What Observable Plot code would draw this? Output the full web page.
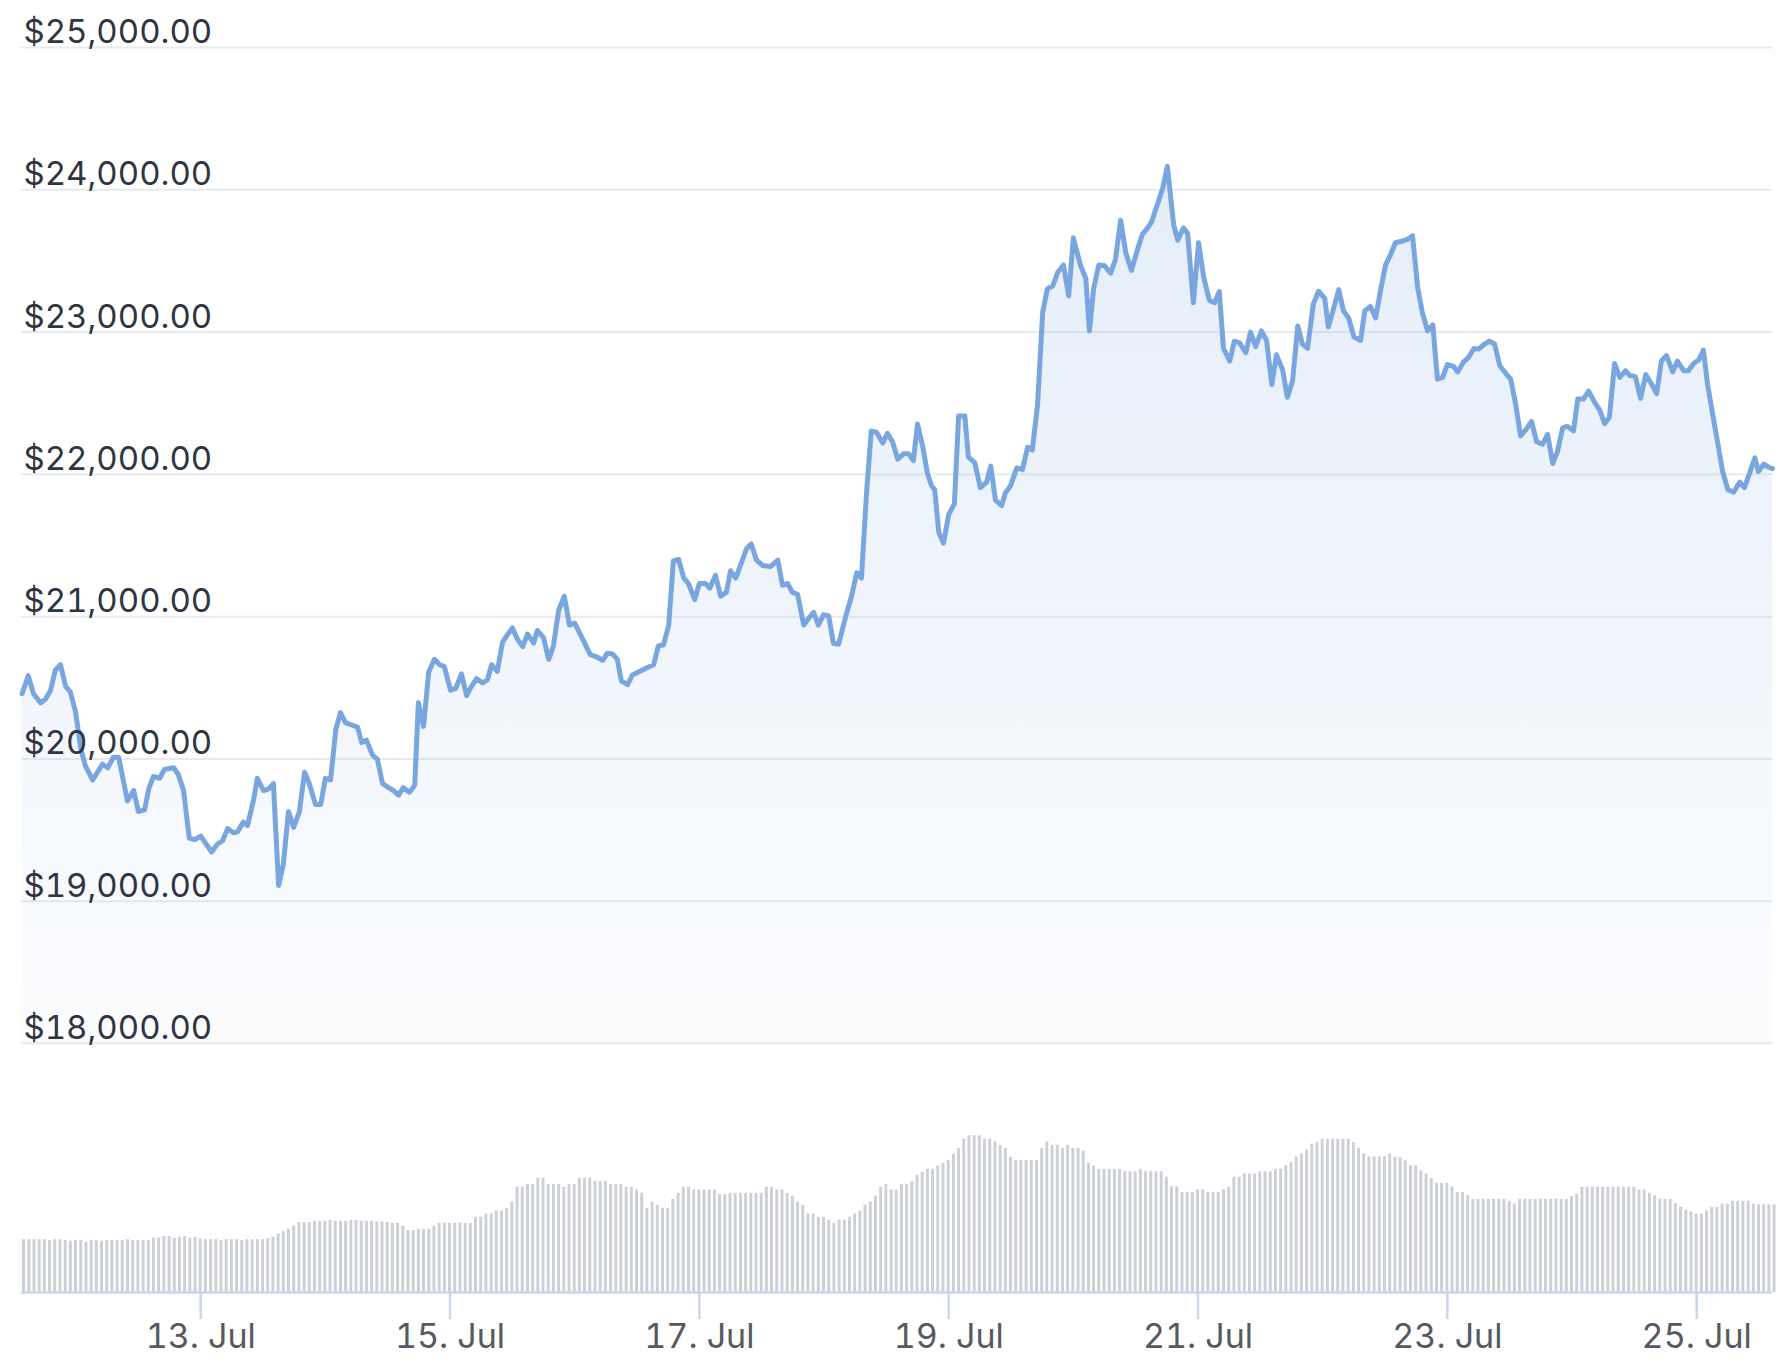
<!DOCTYPE html>
<html><head><meta charset="utf-8">
<script src="https://cdn.jsdelivr.net/npm/d3@7"></script>
<script src="https://cdn.jsdelivr.net/npm/@observablehq/plot@0.6"></script>
<style>
html,body{margin:0;padding:0;background:#fff;}
#wrap{position:relative;width:1792px;height:1364px;overflow:hidden;background:#fff;}
#price{position:absolute;left:0;top:0;}
#vol{position:absolute;left:0;top:1100px;}
</style></head>
<body><div id="wrap"><div id="price"></div><div id="vol"></div></div>
<script>
// Start of the 14-day window (UTC), hours counted from here
const startTime = Date.UTC(2022, 6, 11, 13, 30);

// Price samples: hour offset from start and BTC price in USD
const priceHours = [
0.1,1.3,2.3,3.7,4.6,5.6,6.5,7.5,8.5,9.4,10.4,11.4,12.3,13.7,15.6,16.6,17.7,18.7,20.4,21.6,
22.5,23.7,24.5,25.4,26.6,27.5,29.3,30.2,31.2,32.3,33.3,34.5,36.6,37.7,38.7,39.7,40.8,41.6,42.7,43.5,
44.7,45.4,46.6,47.6,48.5,49.5,50.4,51.4,52.4,53.5,54.5,55.4,56.6,57.6,58.5,59.5,60.5,61.4,62.4,63.3,
64.7,65.5,66.4,67.6,68.5,69.5,70.5,71.6,72.6,73.5,74.7,75.7,76.4,77.4,78.4,79.5,80.5,81.4,82.6,83.6,
84.7,85.7,
86.4,87.6,88.8,89.7,90.5,91.6,92.6,93.4,94.5,95.5,96.5,97.4,98.6,99.3,100.5,101.5,102.4,103.4,104.5,105.5,
106.5,107.2,108.4,109.5,110.7,111.9,112.8,113.8,114.7,115.5,116.7,117.6,118.8,120.1,121.7,122.6,123.6,124.6,125.5,126.5,
127.5,128.4,129.6,130.5,131.7,132.5,133.6,134.6,135.7,136.5,137.5,138.4,139.6,140.5,141.5,142.7,144.2,145.6,146.5,147.5,
148.4,149.4,150.6,151.5,152.5,153.4,154.4,155.4,156.3,157.3,158.6,159.8,160.8,161.7,162.7,163.6,164.6,165.8,166.7,167.7,
168.7,169.8,170.8,
171.7,172.5,173.5,174.4,175.2,175.8,176.6,177.5,178.5,179.6,180.4,181.6,182.3,183.5,184.6,185.8,186.6,187.5,188.7,189.4,
190.4,191.6,192.7,193.7,194.6,195.6,196.6,197.5,198.5,199.5,200.6,201.6,202.5,203.9,204.9,205.6,206.4,207.4,208.5,209.7,
210.6,211.6,212.6,213.7,214.7,215.8,216.8,217.6,218.3,219.7,220.6,221.8,222.6,223.7,224.5,225.6,226.6,227.6,228.7,229.7,
230.6,231.4,232.6,233.5,234.5,235.7,236.6,237.6,238.7,239.7,240.7,241.6,242.8,243.7,244.7,245.7,246.6,247.6,248.7,249.7,
250.9,251.6,252.6,253.6,254.5,255.5,256.5,257.8,258.6,259.7,260.7,261.6,262.6,263.6,264.5,266.1,266.8,267.8,268.8,269.7,
270.7,271.7,272.6,273.6,274.5,275.7,276.5,277.6,278.6,279.6,280.5,281.5,282.6,283.6,284.6,285.7,286.7,287.6,288.6,289.6,
290.7,291.7,292.8,293.8,294.8,295.7,296.7,297.6,298.8,299.6,300.7,301.7,302.8,303.8,304.8,305.7,306.7,307.7,308.8,309.6,
310.7,311.7,312.7,313.8,314.8,315.7,316.7,317.9,318.8,320.0,320.9,321.9,322.9,323.8,324.6,325.8,326.6,327.5,328.5,329.6,
330.8,331.7,332.7,333.7,334.4,335.4,336.4,337.1
];
const prices = [
20458,20585,20458,20394,20420,20483,20623,20662,20509,20471,20331,20076,19951,19852,19963,19938,20012,20012,19704,19778,
19630,19642,19790,19877,19864,19926,19938,19889,19778,19444,19432,19457,19346,19401,19425,19511,19481,19488,19556,19531,
19716,19864,19778,19790,19827,19111,19259,19630,19519,19630,19906,19827,19679,19679,19864,19852,20204,20326,20254,20242,
20224,20115,20132,20025,20000,19827,19802,19778,19746,19798,19765,19815,20394,20229,20611,20700,20662,20649,20483,20496,
20598,20445,
20496,20565,20534,20555,20662,20616,20819,20865,20921,20840,20789,20878,20814,20903,20852,20700,20794,21043,21144,20941,
20954,20903,20814,20733,20718,20692,20743,20738,20700,20547,20522,20590,20611,20636,20662,20794,20802,20941,21392,21403,
21271,21233,21119,21233,21233,21200,21291,21144,21170,21322,21271,21359,21478,21511,21397,21359,21352,21397,21220,21233,
21170,21157,20941,20987,21030,20941,21013,21005,20813,20806,20992,21144,21309,21271,21878,22304,22296,22220,22289,22228,
22106,22144,22144,
22096,22353,22196,22008,21919,21894,21592,21516,21718,21793,22410,22410,22121,22083,21907,21945,22058,21819,21781,21869,
21919,22045,22033,22191,22171,22486,23140,23305,23323,23420,23471,23254,23662,23466,23377,23008,23305,23471,23466,23415,
23509,23786,23557,23433,23563,23687,23732,23777,23856,24010,24166,23757,23645,23732,23695,23206,23628,23384,23222,23206,
23285,22885,22796,22936,22924,22855,23000,22898,23008,22941,22631,22840,22733,22542,22656,23043,22916,22886,23196,23287,
23236,23037,23165,23298,23149,23099,22967,22941,23149,23180,23099,23285,23471,23546,23628,23642,23652,23677,23310,23136,
23008,23050,22669,22682,22771,22758,22720,22789,22822,22885,22880,22911,22936,22916,22763,22712,22669,22504,22270,22313,
22372,22229,22211,22280,22076,22160,22326,22338,22305,22529,22529,22585,22509,22453,22356,22402,22779,22682,22728,22695,
22687,22534,22702,22636,22567,22796,22835,22720,22796,22728,22728,22779,22804,22873,22631,22377,22211,22020,21894,21874,
21945,21907,22008,22116,22020,22071,22050,22040
];

// Hourly trading volume (billions USD), one bar per hour from start
const volumes = [
13.2,13.2,13.2,13.2,13.2,13.0,13.2,13.2,
13.0,12.8,13.0,13.0,12.6,13.0,13.0,12.8,13.0,13.0,13.0,13.0,13.2,13.0,13.0,13.0,13.0,
13.6,13.6,14.0,14.0,13.6,13.8,14.0,13.6,13.8,13.4,13.2,
13.2,13.2,13.0,13.2,13.2,13.2,13.0,13.2,13.2,13.2,13.2,13.4,13.8,
14.6,15.2,15.8,16.6,
17.5,17.5,17.5,17.8,
17.8,17.8,18.0,17.8,17.8,17.8,18.0,18.0,17.8,17.8,17.8,17.6,17.6,17.5,
17.3,17.3,16.6,15.5,15.5,15.8,15.8,15.8,16.6,
17.3,17.3,17.3,17.3,17.3,17.3,17.3,
18.8,18.8,19.6,19.6,20.3,20.3,21.0,22.6,26.3,26.3,27.0,27.0,28.6,28.6,27.0,27.0,27.0,26.3,27.0,27.0,
28.6,28.6,28.6,27.8,27.8,27.8,27.0,27.0,27.0,26.3,26.3,25.6,24.8,21.0,22.6,21.8,21.0,21.0,23.3,24.8,
26.3,26.3,25.6,25.6,25.6,25.6,25.6,24.5,24.5,24.8,24.8,24.8,24.8,24.8,24.8,24.8,26.3,26.3,25.6,25.6,
24.8,24.1,22.6,21.8,19.6,19.6,18.8,18.8,18.1,17.3,18.1,18.1,18.8,19.6,20.3,21.8,22.6,24.1,26.3,27.0,
25.6,25.6,27.0,27.0,27.8,29.3,30.0,30.8,30.8,31.6,32.3,33.0,34.6,36.0,38.3,39.2,39.2,39.2,38.3,38.3,
37.6,36.8,36.0,33.8,33.0,33.0,33.0,33.0,33.0,36.0,37.6,36.8,36.8,36.0,36.8,36.0,36.0,35.3,32.3,31.6,
30.8,30.8,30.8,30.8,30.8,30.2,30.2,30.2,30.8,30.2,30.2,30.2,30.2,28.8,26.4,26.4,25.0,25.0,25.0,25.7,
25.7,25.0,25.0,25.0,25.7,26.3,28.8,28.8,29.6,29.6,29.6,30.2,30.2,30.2,30.8,30.8,31.7,32.5,33.9,34.7,
35.6,37.1,37.5,38.3,38.3,38.3,38.3,38.3,38.3,37.5,36.0,34.7,33.9,33.9,33.9,33.9,34.6,33.8,33.8,32.9,
31.7,31.7,30.4,29.6,28.5,27.3,27.3,27.3,26.4,25.0,25.0,24.2,23.3,23.3,23.3,23.3,23.3,23.3,23.3,22.8,
22.1,23.3,23.3,23.3,23.3,23.3,23.3,23.3,23.3,23.3,23.3,24.0,24.6,26.3,26.3,26.3,26.3,26.3,26.3,26.3,
26.3,26.3,26.3,26.3,25.6,25.6,24.8,24.2,23.3,23.3,23.3,22.3,21.3,20.6,20.1,19.6,19.6,20.4,21.3,21.3,
22.1,22.1,22.8,22.8,22.8,22.8,22.1,21.9,21.9,21.9,21.9
];

// Axis ticks
const yTicks = [18000, 19000, 20000, 21000, 22000, 23000, 24000, 25000];
const xTickDays = [13, 15, 17, 19, 21, 23, 25];
const xTickMonth = "Jul";

const H = 3600e3;
const n = Math.min(priceHours.length, prices.length);
const priceData = d3.range(n).map(i => ({date: new Date(startTime + priceHours[i] * H), price: prices[i]}));
const volData = volumes.map((v, i) => ({d1: new Date(startTime + i * H), d2: new Date(startTime + (i + 1) * H), v}));
const xDomain = [new Date(startTime), new Date(startTime + priceHours[priceHours.length - 1] * H)];
const xTicks = xTickDays.map(d => new Date(Date.UTC(2022, 6, d)));

const gradientDefs = () => {
  const defs = d3.create("svg:defs");
  const g = defs.append("linearGradient").attr("id", "areaGrad")
    .attr("x1", 0).attr("y1", 0).attr("x2", 0).attr("y2", 1);
  g.append("stop").attr("offset", "0%").attr("stop-color", "#7ba7e0").attr("stop-opacity", 0.2);
  g.append("stop").attr("offset", "100%").attr("stop-color", "#7ba7e0").attr("stop-opacity", 0.03);
  return defs.node();
};

const pricePlot = Plot.plot({
  width: 1792, height: 1060,
  marginLeft: 21, marginRight: 20, marginTop: 47, marginBottom: 17,
  style: {background: "transparent", overflow: "visible"},
  x: {type: "utc", domain: xDomain, axis: null, label: null},
  y: {domain: [18000, 25000], axis: null, label: null},
  marks: [
    gradientDefs,
    Plot.gridY(yTicks, {stroke: "#e8eaee", strokeOpacity: 1, strokeWidth: 2}),
    Plot.areaY(priceData, {x: "date", y1: 18000, y2: "price", fill: "url(#areaGrad)"}),
    Plot.lineY(priceData, {x: "date", y: "price", stroke: "#7aa6e0", strokeWidth: 5, strokeLinejoin: "round", strokeLinecap: "round"}),
    Plot.axisY(yTicks, {
      anchor: "left", tickSize: 0, tickPadding: 0, textAnchor: "start", dx: 2, dy: -15, label: null,
      tickFormat: d => "$" + d3.format(",.2f")(d),
      fontSize: 33, fontFamily: "Inter", color: "#2f3541"
    })
  ]
});
document.getElementById("price").append(pricePlot);

const volPlot = Plot.plot({
  width: 1792, height: 264,
  marginLeft: 21, marginRight: 20, marginTop: 32, marginBottom: 72,
  style: {background: "transparent", overflow: "visible"},
  x: {type: "utc", domain: xDomain, label: null},
  y: {domain: [0, 40], axis: null, label: null},
  marks: [
    Plot.rectY(volData, {x1: "d1", x2: "d2", y: "v", insetLeft: 1.1, insetRight: 1.1, fill: "#cdd0d6"}),
    Plot.ruleY([0], {stroke: "#ccd6eb", strokeWidth: 2.5}),
    Plot.axisX(xTicks, {
      tickSize: 27, tickPadding: 4, stroke: "#ccd6eb", strokeWidth: 2.5, label: null,
      tickFormat: d => `${d.getUTCDate()}. ${xTickMonth}`,
      fontSize: 34, fontFamily: "Inter", color: "#555a60"
    })
  ]
});
document.getElementById("vol").append(volPlot);
</script>
</body></html>
